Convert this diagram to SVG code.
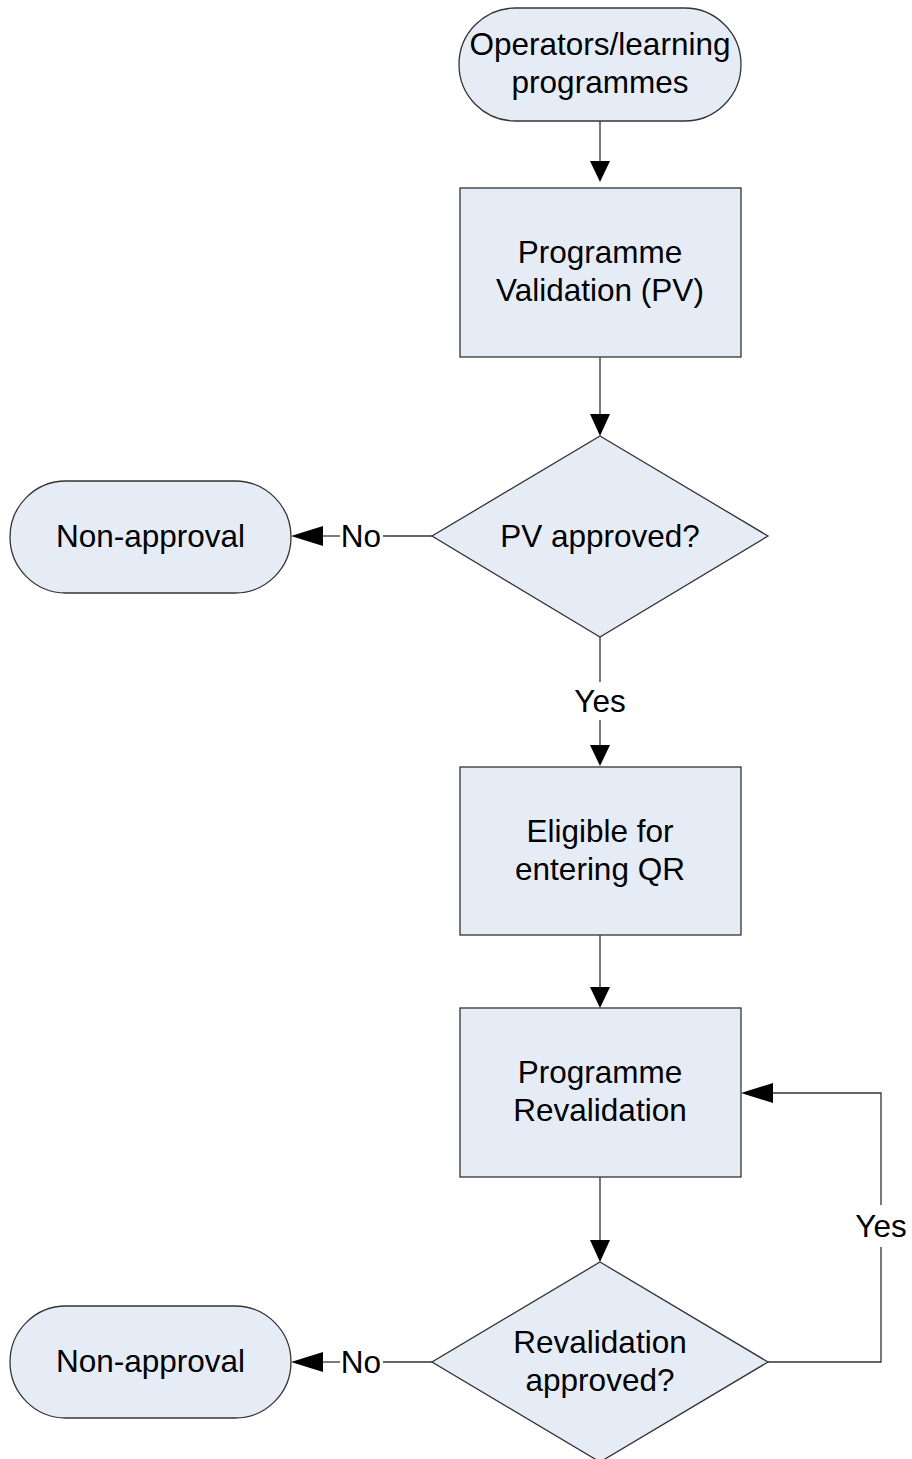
<svg xmlns="http://www.w3.org/2000/svg" width="912" height="1459" viewBox="0 0 912 1459">
<style>
.shape{fill:#e6ecf6;stroke:#333;stroke-width:1.3}
.line{fill:none;stroke:#333;stroke-width:1.3}
.head{fill:#000;stroke:none}
text{font-family:"Liberation Sans",Arial,sans-serif;font-size:31.5px;fill:#000;text-anchor:middle}
</style>
<rect width="912" height="1459" fill="#fff"/>
<g id="connectors">
<line class="line" x1="600" y1="121" x2="600" y2="162"/>
<polygon class="head" points="590,161 610,161 600,182"/>
<line class="line" x1="600" y1="357" x2="600" y2="415"/>
<polygon class="head" points="590,414 610,414 600,436"/>
<line class="line" x1="432" y1="536" x2="383" y2="536"/>
<line class="line" x1="340" y1="536" x2="322" y2="536"/>
<polygon class="head" points="323,526 323,546 291,536"/>
<text x="361" y="547">No</text>
<line class="line" x1="600" y1="637" x2="600" y2="682"/>
<line class="line" x1="600" y1="720" x2="600" y2="746"/>
<polygon class="head" points="590,745 610,745 600,766"/>
<text x="600" y="712">Yes</text>
<line class="line" x1="600" y1="935" x2="600" y2="988"/>
<polygon class="head" points="590,987 610,987 600,1008"/>
<line class="line" x1="600" y1="1177" x2="600" y2="1241"/>
<polygon class="head" points="590,1240 610,1240 600,1262"/>
<polyline class="line" points="768,1362 881,1362 881,1247"/>
<polyline class="line" points="881,1205 881,1093 772,1093"/>
<polygon class="head" points="773,1083 773,1103 741,1093"/>
<text x="881" y="1237">Yes</text>
<line class="line" x1="432" y1="1362" x2="383" y2="1362"/>
<line class="line" x1="340" y1="1362" x2="322" y2="1362"/>
<polygon class="head" points="323,1352 323,1372 291,1362"/>
<text x="361" y="1373">No</text>
</g>
<g id="start">
<rect class="shape" x="459" y="8" width="282" height="113" rx="56.5" ry="56.5"/>
<text x="600" y="55">Operators/learning</text>
<text x="600" y="93">programmes</text>
</g>
<g id="pv">
<rect class="shape" x="460" y="188" width="281" height="169"/>
<text x="600" y="263">Programme</text>
<text x="600" y="301">Validation (PV)</text>
</g>
<g id="pv-approved">
<polygon class="shape" points="600,436 768,536 600,637 432,536"/>
<text x="600" y="547">PV approved?</text>
</g>
<g id="non-approval-1">
<rect class="shape" x="10" y="481" width="281" height="112" rx="56" ry="56"/>
<text x="150.5" y="547">Non-approval</text>
</g>
<g id="eligible">
<rect class="shape" x="460" y="767" width="281" height="168"/>
<text x="600" y="842">Eligible for</text>
<text x="600" y="880">entering QR</text>
</g>
<g id="revalidation">
<rect class="shape" x="460" y="1008" width="281" height="169"/>
<text x="600" y="1083">Programme</text>
<text x="600" y="1121">Revalidation</text>
</g>
<g id="reval-approved">
<polygon class="shape" points="600,1262 768,1362 600,1462 432,1362"/>
<text x="600" y="1353">Revalidation</text>
<text x="600" y="1391">approved?</text>
</g>
<g id="non-approval-2">
<rect class="shape" x="10" y="1306" width="281" height="112" rx="56" ry="56"/>
<text x="150.5" y="1372">Non-approval</text>
</g>
</svg>
